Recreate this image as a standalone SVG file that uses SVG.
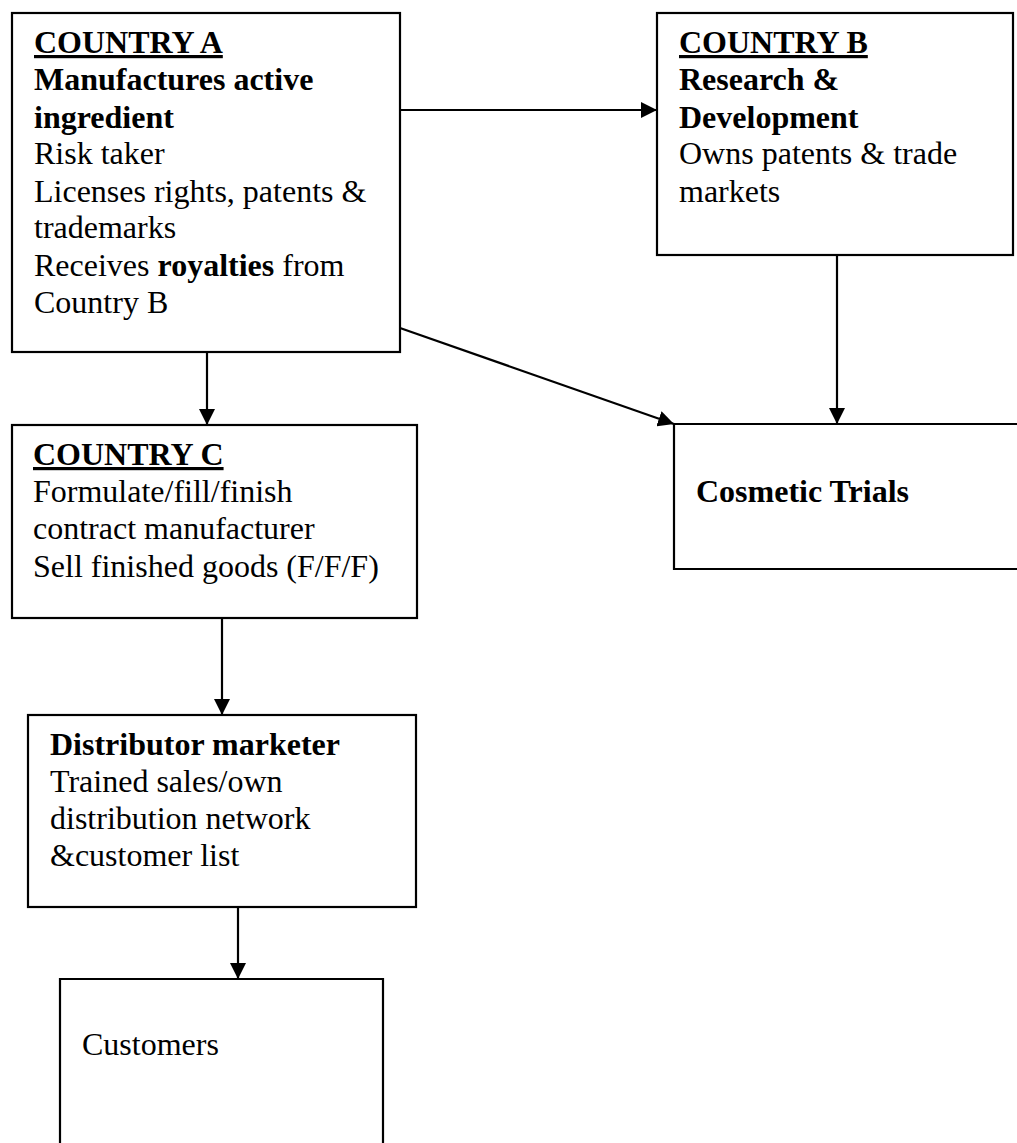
<svg xmlns="http://www.w3.org/2000/svg" width="1017" height="1143" viewBox="0 0 1017 1143">
<style>
.box{fill:#fff;stroke:#000;stroke-width:2.2}
.t{font-family:"Liberation Serif","Times New Roman",serif;font-size:32px;fill:#000}
.b{font-weight:bold}
.u{text-decoration:underline}
.c{fill:none;stroke:#000;stroke-width:2.2}
</style>
<defs>
<marker id="ah" markerUnits="userSpaceOnUse" markerWidth="17" markerHeight="16" refX="16" refY="8" orient="auto">
<path d="M0,0 L16,8 L0,16 z" fill="#000"/>
</marker>
</defs>
<rect width="1017" height="1143" fill="#fff"/>
<g id="connectors">
<line class="c" x1="400" y1="110" x2="657" y2="110" marker-end="url(#ah)"/>
<line class="c" x1="400" y1="328" x2="674" y2="424" marker-end="url(#ah)"/>
<line class="c" x1="837" y1="255" x2="837" y2="424" marker-end="url(#ah)"/>
<line class="c" x1="207" y1="352" x2="207" y2="425" marker-end="url(#ah)"/>
<line class="c" x1="222" y1="618" x2="222" y2="715" marker-end="url(#ah)"/>
<line class="c" x1="238" y1="907" x2="238" y2="979" marker-end="url(#ah)"/>
</g>
<g id="countryA">
<rect class="box" x="12" y="13" width="388" height="339"/>
<text class="t" x="34" y="53"><tspan class="b u">COUNTRY A</tspan></text>
<text class="t b" x="34" y="90">Manufactures active</text>
<text class="t b" x="34" y="128">ingredient</text>
<text class="t" x="34" y="164">Risk taker</text>
<text class="t" x="34" y="202">Licenses rights, patents &amp;</text>
<text class="t" x="34" y="238">trademarks</text>
<text class="t" x="34" y="276">Receives <tspan class="b">royalties</tspan> from</text>
<text class="t" x="34" y="313">Country B</text>
</g>
<g id="countryB">
<rect class="box" x="657" y="13" width="356" height="242"/>
<text class="t" x="679" y="53"><tspan class="b u">COUNTRY B</tspan></text>
<text class="t b" x="679" y="90">Research &amp;</text>
<text class="t b" x="679" y="128">Development</text>
<text class="t" x="679" y="164">Owns patents &amp; trade</text>
<text class="t" x="679" y="202">markets</text>
</g>
<g id="cosmetic">
<path class="c" d="M1020,424 H674 V569 H1020"/>
<text class="t b" x="696" y="502">Cosmetic Trials</text>
</g>
<g id="countryC">
<rect class="box" x="12" y="425" width="405" height="193"/>
<text class="t" x="33" y="465"><tspan class="b u">COUNTRY C</tspan></text>
<text class="t" x="33" y="502">Formulate/fill/finish</text>
<text class="t" x="33" y="539">contract manufacturer</text>
<text class="t" x="33" y="577">Sell finished goods (F/F/F)</text>
</g>
<g id="distributor">
<rect class="box" x="28" y="715" width="388" height="192"/>
<text class="t b" x="50" y="755">Distributor marketer</text>
<text class="t" x="50" y="792">Trained sales/own</text>
<text class="t" x="50" y="829">distribution network</text>
<text class="t" x="50" y="866">&amp;customer list</text>
</g>
<g id="customers">
<path class="c" d="M60,1146 V979 H383 V1146"/>
<text class="t" x="82" y="1055">Customers</text>
</g>
</svg>
